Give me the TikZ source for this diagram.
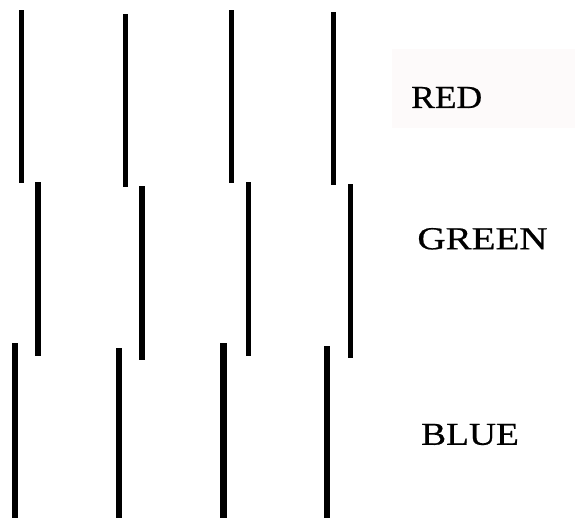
\documentclass[tikz,border=0pt]{standalone}
\usepackage{fontspec}
\setmainfont{Liberation Serif}
\newfontfamily\lblfont[FakeBold=0.6]{Liberation Serif}
\definecolor{boxbg}{HTML}{FDFAFA}
\begin{document}
\begin{tikzpicture}[x=1pt,y=-1pt,
  bar/.style={fill=black},
  lbl/.style={inner sep=0pt,font=\lblfont\fontsize{32}{36}\selectfont,anchor=center}]
\useasboundingbox (0,0) rectangle (579,518);
\fill[boxbg] (392,49) rectangle (575,128);
% RED row
\foreach \x/\t/\b in {21.4/10.5/183.5, 125.3/14.5/187.5, 231.4/10.5/183.5, 333.6/12.5/185.5}
  \fill[bar] (\x-2.8,\t) rectangle (\x+2.8,\b);
% GREEN row
\foreach \x/\t/\b in {38.2/182/356, 142/186.3/360, 248.6/182/356, 350.5/184.3/358}
  \fill[bar] (\x-2.8,\t) rectangle (\x+2.8,\b);
% BLUE row
\foreach \x/\t/\w in {14.8/343.3/2.8, 118.7/347.7/2.8, 223.8/343.3/3.6, 327.2/345.7/2.8}
  \fill[bar] (\x-\w,\t) rectangle (\x+\w,518);
\node[lbl,xscale=1.11] (red) at (446.7,97.5) {RED};
\node[lbl,xscale=1.22] (green) at (482.5,238.8) {GREEN};
\node[lbl,xscale=1.17] (blue) at (470,434.5) {BLUE};
\end{tikzpicture}
\end{document}
